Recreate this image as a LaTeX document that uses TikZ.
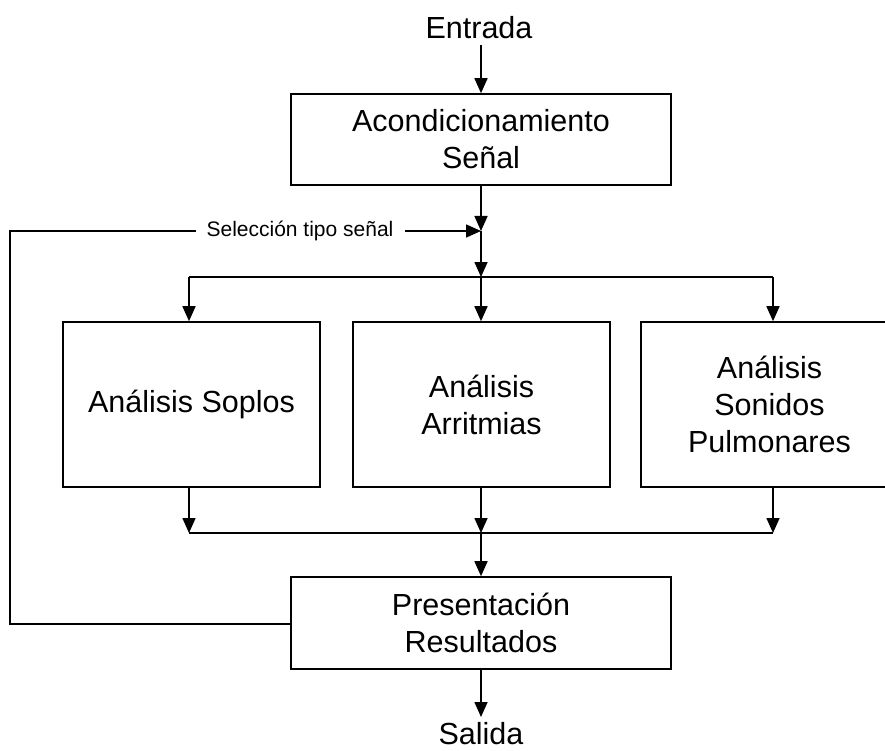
\documentclass[tikz,border=0pt]{standalone}
\usepackage{fontspec}
\setmainfont{Liberation Sans}
\usetikzlibrary{arrows.meta}
\begin{document}
\begin{tikzpicture}[x=1pt,y=-1pt,
  line width=1.6pt,
  arr/.style={-{Triangle[length=15pt,width=13pt]}},
  blk/.style={draw,line width=1.6pt,align=center,inner sep=0pt,font=\fontsize{30.5}{37}\selectfont},
  lbl/.style={align=center,inner sep=0pt,font=\fontsize{30.5}{37}\selectfont},
  sml/.style={inner sep=0pt,font=\fontsize{21}{25}\selectfont}]
\useasboundingbox[fill=white] (0,0) rectangle (885,751);
\node[lbl] (in) at (479,28) {Entrada};
\node[blk,minimum width=380pt,minimum height=91pt] (acond) at (481,139.5) {Acondicionamiento\\Señal};
\coordinate (j1) at (481,231);
\coordinate (j2) at (481,277);
\coordinate (l1) at (189,277);
\coordinate (r1) at (773,277);
\node[blk,minimum width=257pt,minimum height=165pt] (soplos) at (191.5,404.5) {Análisis Soplos};
\node[blk,minimum width=257pt,minimum height=165pt] (arrit) at (481.5,404.5) {Análisis\\Arritmias};
\node[blk,minimum width=257pt,minimum height=165pt] (pulm) at (769.5,404.5) {Análisis\\Sonidos\\Pulmonares};
\coordinate (l2) at (189,533);
\coordinate (j3) at (481,533);
\coordinate (r2) at (773,533);
\node[blk,minimum width=380pt,minimum height=92pt] (pres) at (481,623) {Presentación\\Resultados};
\node[lbl] (out) at (481,734) {Salida};
\node[sml] (sel) at (300,231) {Selección tipo señal};
\coordinate (fb1) at (10,624);
\coordinate (fb2) at (10,231);
\coordinate (sa) at (405,231);

\draw[arr] (481,45) -- (acond.north);
\draw[arr] (acond.south) -- (j1);
\draw[arr] (sa) -- (j1);
\draw (pres.west |- fb1) -- (fb1) -- (fb2) -- (sel.west -| 196,0);
\draw[arr] (j1) -- (j2);
\draw (l1) -- (r1);
\draw[arr] (l1) -- (l1 |- soplos.north);
\draw[arr] (j2) -- (j2 |- arrit.north);
\draw[arr] (r1) -- (r1 |- pulm.north);
\draw[arr] (l2 |- soplos.south) -- (l2);
\draw[arr] (j3 |- arrit.south) -- (j3);
\draw[arr] (r2 |- pulm.south) -- (r2);
\draw (l2) -- (r2);
\draw[arr] (j3) -- (pres.north);
\draw[arr] (pres.south) -- (481,717);
\end{tikzpicture}
\end{document}
